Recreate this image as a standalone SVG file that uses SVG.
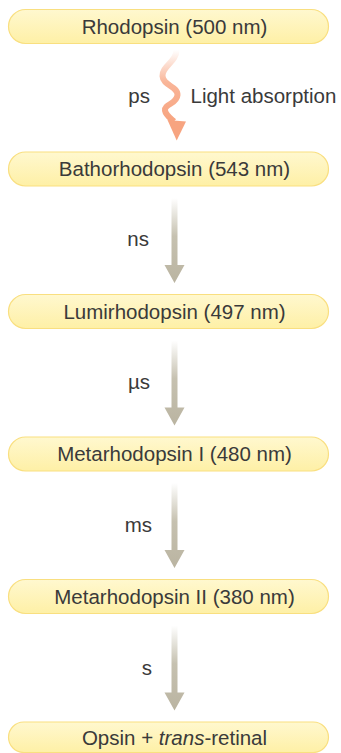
<svg xmlns="http://www.w3.org/2000/svg" width="341" height="753" viewBox="0 0 341 753">
  <defs>
    <linearGradient id="boxFill" x1="0" y1="0" x2="0" y2="1">
      <stop offset="0" stop-color="#fff8cf"/>
      <stop offset="1" stop-color="#fef0a6"/>
    </linearGradient>
    <linearGradient id="greyArrow" x1="0" y1="0" x2="0" y2="1">
      <stop offset="0" stop-color="#c6c1b0" stop-opacity="0"/>
      <stop offset="0.45" stop-color="#c6c1b0"/>
      <stop offset="1" stop-color="#bab4a1"/>
    </linearGradient>
    <linearGradient id="lightArrow" x1="0" y1="0" x2="0" y2="1">
      <stop offset="0" stop-color="#f8a886" stop-opacity="0"/>
      <stop offset="0.45" stop-color="#f8a886" stop-opacity="0.85"/>
      <stop offset="1" stop-color="#f7a480"/>
    </linearGradient>
  </defs>
  <style>
    .box { fill: url(#boxFill); stroke: #f9df80; stroke-width: 1.2; }
    .lbl { font-family: "Liberation Sans", Arial, sans-serif; font-size: 20.5px; fill: #3a3a3a; }
    .node { text-anchor: middle; }
    .step { text-anchor: end; }
    .garrow { fill: url(#greyArrow); }
  </style>

  <g id="connectors">
    <g id="c1">
      <path d="M176.5,50 C176.5,62 162,66 162.5,76 C163,86 178,86 177.5,95 C177,104 164,104 165,110.5 C165.7,115 170,118 174,121.5" fill="none" stroke="url(#lightArrow)" stroke-width="6" stroke-linecap="butt"/>
      <polygon points="167.5,120 186,121.5 176.7,140.5" fill="#f7a480"/>
      <text class="lbl step" x="150" y="103">ps</text>
      <text class="lbl" x="190.5" y="103">Light absorption</text>
    </g>
    <g id="c2">
      <path class="garrow" d="M171.5,198 H177.5 V265 H184.5 L174.5,283 L164.5,265 H171.5 Z"/>
      <text class="lbl step" x="149" y="246">ns</text>
    </g>
    <g id="c3">
      <path class="garrow" d="M171.5,340.5 H177.5 V407.5 H184.5 L174.5,425.5 L164.5,407.5 H171.5 Z"/>
      <text class="lbl step" x="150" y="389">µs</text>
    </g>
    <g id="c4">
      <path class="garrow" d="M171.5,483 H177.5 V550 H184.5 L174.5,568 L164.5,550 H171.5 Z"/>
      <text class="lbl step" x="152" y="532">ms</text>
    </g>
    <g id="c5">
      <path class="garrow" d="M171.5,625.5 H177.5 V692.5 H184.5 L174.5,710.5 L164.5,692.5 H171.5 Z"/>
      <text class="lbl step" x="152" y="675">s</text>
    </g>
  </g>

  <g id="n1">
    <rect class="box" x="8.5" y="9.5" width="320" height="34" rx="17"/>
    <text class="lbl node" x="174.5" y="33.7">Rhodopsin (500 nm)</text>
  </g>
  <g id="n2">
    <rect class="box" x="8.5" y="152" width="320" height="34" rx="17"/>
    <text class="lbl node" x="174.5" y="176.2">Bathorhodopsin (543 nm)</text>
  </g>
  <g id="n3">
    <rect class="box" x="8.5" y="294.5" width="320" height="34" rx="17"/>
    <text class="lbl node" x="174.5" y="318.7">Lumirhodopsin (497 nm)</text>
  </g>
  <g id="n4">
    <rect class="box" x="8.5" y="437" width="320" height="34" rx="17"/>
    <text class="lbl node" x="174.5" y="461.2">Metarhodopsin I (480 nm)</text>
  </g>
  <g id="n5">
    <rect class="box" x="8.5" y="579.5" width="320" height="34" rx="17"/>
    <text class="lbl node" x="174.5" y="603.7">Metarhodopsin II (380 nm)</text>
  </g>
  <g id="n6">
    <rect class="box" x="8.5" y="722" width="320" height="30.5" rx="15.25"/>
    <text class="lbl node" x="174.5" y="744.5">Opsin + <tspan font-style="italic">trans</tspan>-retinal</text>
  </g>
</svg>
